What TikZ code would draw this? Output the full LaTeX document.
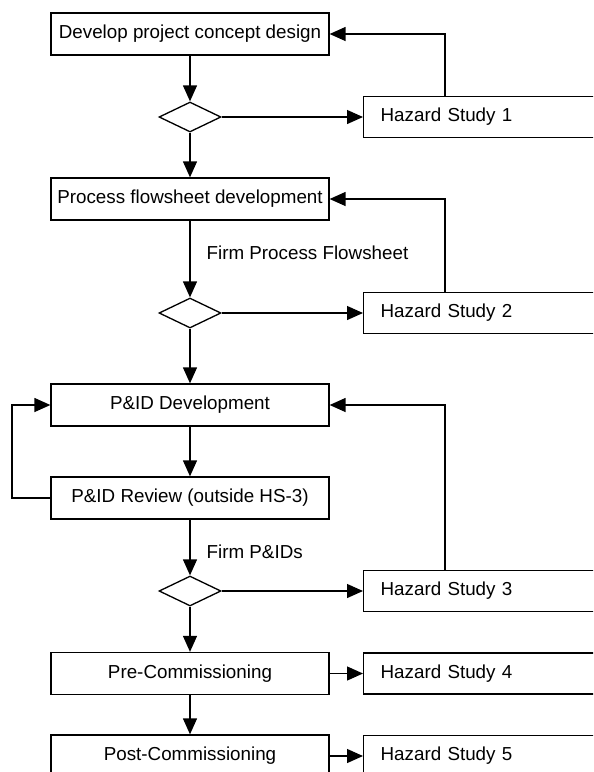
\documentclass[tikz,border=0pt]{standalone}
\usepackage{fontspec}
\setmainfont{Liberation Sans}
\usepackage{tikz}
\usetikzlibrary{shapes.geometric, arrows.meta}

\begin{document}
\begin{tikzpicture}[x=0.02cm, y=-0.02cm, line width=0.75pt,
        font=\fontsize{10.7}{12.8}\selectfont,
        stagebox/.style={draw, minimum width=5.56cm, minimum height=0.84cm, inner sep=0},
        hazbox/.style={draw, anchor=west, text width=4.5cm, align=left, inner xsep=0.34cm, minimum height=0.82cm},
        gate/.style={draw, shape=diamond, aspect=2, minimum width=1.24cm, minimum height=0.6cm, inner sep=0},
        flow/.style={-{Triangle[length=0.32cm, width=0.28cm]}}]
        \useasboundingbox (0,0) rectangle (593,772);
        \clip (0,0) rectangle (593,772);

        % main column
        \node[stagebox] (concept) at (190,34) {Develop project concept design};
        \node[gate] (g1) at (190,117) {};
        \node[stagebox] (pfd) at (190,199) {Process flowsheet development};
        \node[gate] (g2) at (190,313) {};
        \node[stagebox] (piddev) at (190,405) {P\&ID Development};
        \node[stagebox] (pidrev) at (190,498) {P\&ID Review (outside HS-3)};
        \node[gate] (g3) at (190,591) {};
        \node[stagebox] (precom) at (190,673.5) {Pre-Commissioning};
        \node[stagebox] (postcom) at (190,756) {Post-Commissioning};

        % hazard studies
        \node[hazbox] (hs1) at (363,117) {Hazard Study 1};
        \node[hazbox] (hs2) at (363,313) {Hazard Study 2};
        \node[hazbox] (hs3) at (363,591) {Hazard Study 3};
        \node[hazbox] (hs4) at (363,673.5) {Hazard Study 4};
        \node[hazbox] (hs5) at (363,756) {Hazard Study 5};

        \node[anchor=west, inner sep=0] (firmpfd) at (206,253) {Firm Process Flowsheet};
        \node[anchor=west, inner sep=0] (firmpid) at (206,552) {Firm P\&IDs};

        \coordinate (back) at (445,0);
        \coordinate (loop) at (12,450);

        \draw[flow] (concept) -- (g1);
        \draw[flow] (g1) -- (pfd);
        \draw[flow] (pfd) -- (g2);
        \draw[flow] (g2) -- (piddev);
        \draw[flow] (piddev) -- (pidrev);
        \draw[flow] (pidrev) -- (g3);
        \draw[flow] (g3) -- (precom);
        \draw[flow] (precom) -- (postcom);

        \draw[flow] (g1.east) -- (hs1.west);
        \draw[flow] (g2.east) -- (hs2.west);
        \draw[flow] (g3.east) -- (hs3.west);
        \draw[flow] (precom.east) -- (hs4.west);
        \draw[flow] (postcom.east) -- (hs5.west);

        \draw[flow] (back |- hs1.north) |- (concept.east);
        \draw[flow] (back |- hs2.north) |- (pfd.east);
        \draw[flow] (back |- hs3.north) |- (piddev.east);

        \draw[flow] (pidrev.west) -| (loop) |- (piddev.west);
    \end{tikzpicture}
\end{document}
